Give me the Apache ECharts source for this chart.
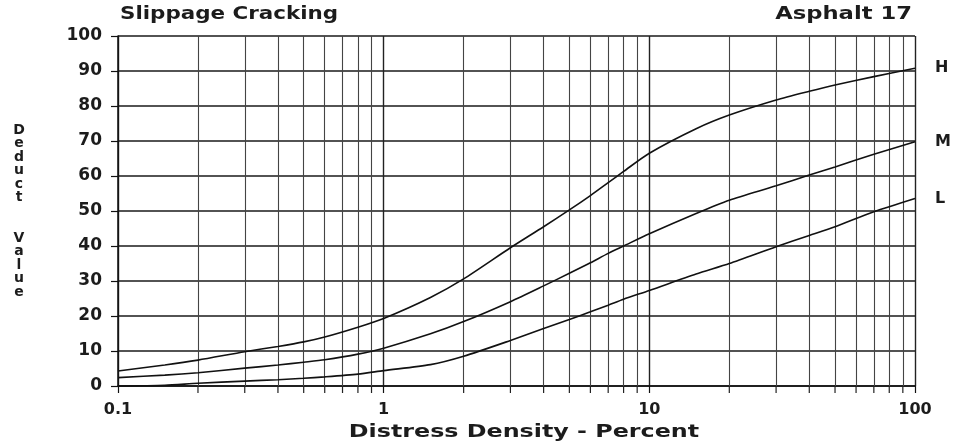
<!DOCTYPE html>
<html>
<head>
<meta charset="utf-8">
<script src="https://cdn.jsdelivr.net/npm/echarts@6/dist/echarts.min.js"></script>
<style>
html,body{margin:0;padding:0;background:#fff;}
#chart{width:957px;height:446px;}
</style>
</head>
<body>
<div id="chart"></div>
<script>
// ---- data ----
const density = [0.1, 0.15, 0.2, 0.3, 0.4, 0.5, 0.6, 0.8, 1, 1.5, 2, 3, 4, 5, 6, 7, 8, 10, 15, 20, 30, 40, 50, 70, 100];
const deductH = [4.3, 6, 7.4, 9.8, 11.3, 12.6, 14, 16.8, 19.3, 25.3, 30.6, 39.5, 45.5, 50.3, 54.4, 58.1, 61.3, 66.5, 73.5, 77.4, 81.7, 84.2, 86, 88.4, 90.8];
const deductM = [2.4, 3.1, 3.8, 5.1, 6, 6.8, 7.5, 9.1, 10.8, 14.9, 18.4, 24.1, 28.6, 32.2, 35.2, 37.9, 40, 43.5, 49.3, 53.1, 57.2, 60.3, 62.6, 66.2, 69.8];
const deductL = [0, 0.2, 0.8, 1.4, 1.8, 2.2, 2.6, 3.4, 4.4, 6.1, 8.5, 13, 16.4, 19, 21.2, 23.1, 24.8, 27.3, 32, 35, 39.8, 43, 45.5, 49.8, 53.6];
const minorGridX = [0.2, 0.3, 0.4, 0.5, 0.6, 0.7, 0.8, 0.9, 2, 3, 4, 5, 6, 7, 8, 9, 20, 30, 40, 50, 60, 70, 80, 90];
const xTickLabels = ['0.1', '1', '10', '100'];
const chartTitle = 'Slippage Cracking';
const chartSubtitle = 'Asphalt 17';
const yName = 'Deduct Value';
const xName = 'Distress Density - Percent';

const FONT = 'DejaVu Sans';
const INK = '#1c1c1c';

function pairs(ys) { return density.map((x, i) => [x, ys[i]]); }
const yNameStacked = yName.split(' ').map(w => w.split('').join('\n')).join('\n\n\n');

const chart = echarts.init(document.getElementById('chart'), null, { renderer: 'canvas' });

function curve(name, ys, extra) {
  return Object.assign({
    name: name,
    type: 'line',
    data: pairs(ys),
    smooth: 0.25,
    symbol: 'none',
    clip: false,
    lineStyle: { color: '#111', width: 1.6 },
    endLabel: {
      show: true, formatter: '{a}', distance: 20,
      fontFamily: FONT, fontWeight: 'bold', fontSize: 16, color: INK
    },
    emphasis: { disabled: true },
    z: 5
  }, extra || {});
}

chart.setOption({
  animation: false,
  backgroundColor: '#fff',
  graphic: [
    { type: 'text', x: 120, y: 5, scaleX: 1.19,
      style: { text: chartTitle, x: 0, y: 0, align: 'left', font: 'bold 18px "' + FONT + '"', fill: INK } },
    { type: 'text', x: 912, y: 5, scaleX: 1.26,
      style: { text: chartSubtitle, x: 0, y: 0, align: 'right', font: 'bold 18px "' + FONT + '"', fill: INK } },
    { type: 'text', x: 524, y: 424, scaleX: 1.4,
      style: { text: xName, x: 0, y: 0, align: 'center', font: 'bold 17px "' + FONT + '"', fill: INK } }
  ],
  grid: { left: 118, right: 42, top: 36, bottom: 60 },
  xAxis: {
    type: 'log', logBase: 10, min: 0.1, max: 100,
    axisLine: { show: true, lineStyle: { color: '#111', width: 1.5 } },
    axisTick: { show: true, inside: false, length: 7, lineStyle: { color: '#111', width: 1.2 } },
    axisLabel: {
      margin: 16, fontFamily: FONT, fontWeight: 'bold', fontSize: 16, color: INK,
      formatter: function (v) {
        const e = Math.round(Math.log10(v)) + 1;
        return xTickLabels[e] !== undefined ? xTickLabels[e] : String(v);
      }
    },
    splitLine: { show: true, lineStyle: { color: '#222', width: 1.4 } }
  },
  yAxis: {
    type: 'value', min: 0, max: 100, interval: 10,
    name: yNameStacked, nameLocation: 'middle', nameGap: 99, nameRotate: 0,
    nameTextStyle: { fontFamily: FONT, fontWeight: 'bold', fontSize: 14, color: INK,
      lineHeight: 13.5, align: 'center', verticalAlign: 'middle' },
    axisLine: { show: true, lineStyle: { color: '#111', width: 1.5 } },
    axisTick: { show: true, inside: false, length: 7, lineStyle: { color: '#111', width: 1.2 } },
    axisLabel: { margin: 16, fontFamily: FONT, fontWeight: 'bold', fontSize: 17, color: INK },
    splitLine: { show: true, lineStyle: { color: '#1a1a1a', width: 1.5 } }
  },
  series: [
    curve('H', deductH),
    curve('M', deductM),
    curve('L', deductL, {
      markLine: {
        silent: true, symbol: ['none', 'none'], label: { show: false },
        lineStyle: { color: '#444', width: 1.1, type: 'solid' },
        emphasis: { disabled: true },
        animation: false,
        z: 1,
        data: minorGridX.map(v => [{ coord: [v, 0] }, { coord: [v, 100] }])
      }
    })
  ]
});

// minor tick marks below the x axis, placed through the axis scale
const zr = chart.getZr();
const yBase = chart.convertToPixel({ yAxisIndex: 0 }, 0);
minorGridX.forEach(v => {
  const px = chart.convertToPixel({ xAxisIndex: 0 }, v);
  zr.add(new echarts.graphic.Line({
    shape: { x1: px, y1: yBase, x2: px, y2: yBase + 7 },
    style: { stroke: '#222', lineWidth: 1.2 },
    silent: true, z: 50
  }));
});
</script>
</body>
</html>
